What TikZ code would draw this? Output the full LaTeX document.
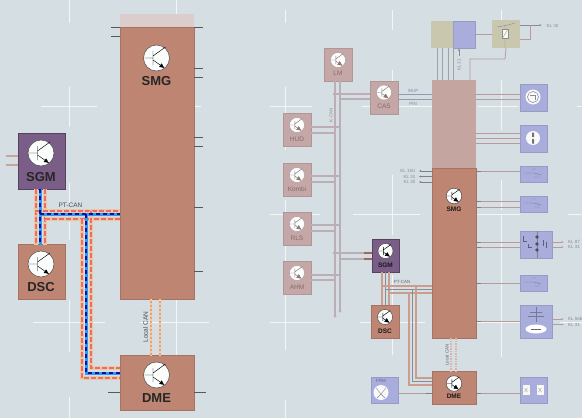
\documentclass[tikz,border=0pt]{standalone}
\usepackage{fontspec}
\setmainfont{Liberation Sans}
\usetikzlibrary{arrows.meta}
\definecolor{bg}{HTML}{D5DEE3}
\definecolor{salm}{HTML}{BE8573}
\definecolor{salmd}{HTML}{9C6A5C}
\definecolor{purp}{HTML}{7B5E88}
\definecolor{fade}{HTML}{C4A7A6}
\definecolor{pale}{HTML}{C4A5A0}
\definecolor{bluebox}{HTML}{A9ADDB}
\definecolor{tanbox}{HTML}{C9C8AE}
\definecolor{wiregrey}{HTML}{BBAEB4}
\definecolor{wirepink}{HTML}{B79A9C}
\definecolor{canred}{HTML}{EE6B66}
\definecolor{cantan}{HTML}{E9C8A6}
\definecolor{canblue}{HTML}{2C9AF0}
\definecolor{cannavy}{HTML}{10109A}
\definecolor{lolY}{HTML}{F2D27A}
\definecolor{txtg}{HTML}{8A8A92}
\tikzset{
 gridline/.style={white,line width=1pt,opacity=.75},
 ecu/.style={rectangle,minimum width=#1,inner sep=0pt,outer sep=0pt},
 boxS/.style={fill=salm,draw=salmd!70!salm,line width=.5pt},
 boxP/.style={fill=purp,draw=purp!70!black,line width=.7pt},
 boxF/.style={fill=fade,draw=fade!90!black,line width=.3pt},
 boxB/.style={fill=bluebox,draw=bluebox!90!black,line width=.3pt},
 boxT/.style={fill=tanbox},
 stub/.style={draw=black!65,line width=.8pt},
 rstub/.style={draw=black!50,line width=.7pt},
 canR/.style={draw=cantan,line width=4.5pt,postaction={draw=canred,line width=1.7pt,dash pattern=on 5pt off 2pt}},
 canB/.style={draw=canblue,line width=3pt,postaction={draw=cannavy,line width=1.4pt,dash pattern=on 4pt off 3pt}},
 canL/.style={draw=canred!70!white,line width=2.6pt,postaction={draw=lolY,line width=2.6pt,dash pattern=on 2pt off 2pt}},
 rcan/.style={draw=salm!80!white,line width=1.6pt},
 rcanb/.style={draw=black!45,line width=.7pt},
 rlocal/.style={draw=salm!60!white,line width=1.2pt,dash pattern=on 1.5pt off 1pt},
 kcan/.style={draw=wiregrey,line width=1.6pt},
 wthin/.style={draw=wirepink,line width=.8pt},
 bigl/.style={font=\bfseries\fontsize{13}{13}\selectfont,text=black!85},
 midl/.style={font=\bfseries\fontsize{6.5}{7}\selectfont,text=black!90},
 faint/.style={font=\fontsize{6.5}{7}\selectfont,text=black!35!fade},
 tinyl/.style={font=\fontsize{4.5}{5}\selectfont,text=txtg},
 capl/.style={font=\fontsize{6.5}{7}\selectfont,text=black!70},
 capr/.style={font=\fontsize{4.5}{5}\selectfont,text=black!60}
}
\newcommand{\trans}[4][black]{%
 \begin{scope}[shift={(#2,#3)},scale=#4,x=1pt,y=-1pt]
  \fill[white!93!bg,draw=#1!70!white,line width=.5pt] (0,0) circle (13);
  \draw[#1,line width=.45pt] (-12,0)--(-3.5,0) (-3.5,-7)--(-3.5,7) (-3.5,-2)--(9,-11);
  \draw[#1,line width=.45pt,-{Latex[length=5pt,width=4.5pt]}] (-3.5,2)--(8,10);
 \end{scope}}
\begin{document}
\begin{tikzpicture}[x=1pt,y=-1pt]
\useasboundingbox (0,0) rectangle (582,418);
\fill[bg] (0,0) rectangle (582,418);
% grid
\foreach \a/\b/\c in {69/0/23,69/87/127,69/183/205,69/222/240,69/300/352,69/397/418,176/0/17,176/300/355,285/10/23,285/87/150,285/167/196,285/200/350,285/400/418,392/10/30,392/70/115,392/175/235,392/275/355,501/10/22,501/80/130,501/180/210,501/215/357}
  \draw[gridline] (\a,\b)--(\a,\c);
\foreach \a/\b/\c in {106/41/97,322/33/105,322/140/209,106/195/201,106/270/312,106/362/432,214/270/320,214/353/420,322/270/320,322/360/425,106/478/518,106/577/582,214/476/520,214/568/582,322/472/520,322/560/582}
  \draw[gridline] (\b,\a)--(\c,\a);
% ===== left =====
\fill[white!40!pale!80!bg] (120,14) rectangle (194,27);
\node[ecu=74pt,minimum height=272pt,boxS] (smgL) at (157,163) {};
\node[ecu=74pt,minimum height=55pt,boxS] (dmeL) at (157,383) {};
\node[ecu=47pt,minimum height=55pt,boxS] (dscL) at (41.5,272) {};
\node[ecu=47pt,minimum height=56pt,boxP] (sgmL) at (41.5,161) {};
\foreach \y in {27,36} \draw[stub] (smgL.west |- 0,\y) -- ++(-9,0);
\foreach \y in {27,68,77,137,146,207,271} \draw[stub] (smgL.east |- 0,\y) -- ++(9,0);
\draw[stub] (dmeL.west |- 0,392) -- ++(-12,0);
\draw[stub] (dmeL.east |- 0,392) -- ++(12,0);
\draw[draw=salmd!60!white,line width=2.5pt] (sgmL.west |- 0,156) -- ++(-12,0);
\draw[draw=salmd!60!white,line width=2.5pt] (sgmL.west |- 0,165) -- ++(-12,0);
% PT-CAN left
\coordinate (a1) at (36,211);\coordinate (b1) at (40,214);\coordinate (c1) at (45,219);
\path[canR] (sgmL.south -| 36,0) -- (dscL.north -| 36,0);
\path[canR] (sgmL.south -| 45,0) -- (dscL.north -| 45,0);
\path[canR] (a1) -- (smgL.west |- a1);
\path[canR] (c1) -- (smgL.west |- c1);
\path[canR] (91,211) -- (91,368) -- (dmeL.west |- 0,368);
\path[canR] (82,219) -- (82,378) -- (dmeL.west |- 0,378);
\path[canB] (sgmL.south -| 40,0) -- (dscL.north -| 40,0);
\path[canB] (b1) -- (smgL.west |- b1);
\path[canB] (86,214) -- (86,373) -- (dmeL.west |- 0,373);
\path[canL] (smgL.south -| 151,0) -- (dmeL.north -| 151,0);
\path[canL] (smgL.south -| 160,0) -- (dmeL.north -| 160,0);
\node[capl] (ptL) at (70.5,205) {PT-CAN};
\node[capl,rotate=90] (lcL) at (145.5,327) {Local CAN};
\trans{156.5}{58}{1}
\trans{41}{153}{1}
\trans{41}{264}{1}
\trans{156.5}{375}{1}
\node[bigl] (t1) at (156.5,81.5) {SMG};
\node[bigl] (t2) at (41,177) {SGM};
\node[bigl] (t3) at (41,287.5) {DSC};
\node[bigl] (t4) at (156.5,398) {DME};
% ===== right =====
\node[ecu=28pt,minimum height=33pt,boxF] (lm) at (338,64.5) {};
\node[ecu=28pt,minimum height=33pt,boxF] (cas) at (384,97.5) {};
\node[ecu=28pt,minimum height=33pt,boxF] (hud) at (297,130) {};
\node[ecu=28pt,minimum height=33pt,boxF] (kombi) at (297,179.5) {};
\node[ecu=28pt,minimum height=33pt,boxF] (rls) at (297,228.5) {};
\node[ecu=28pt,minimum height=33pt,boxF] (ahm) at (297,277.5) {};
\node[ecu=27pt,minimum height=33pt,boxP] (sgmR) at (385.5,255.5) {};
\node[ecu=28pt,minimum height=33pt,boxS] (dscR) at (385,321.5) {};
\node[ecu=27pt,minimum height=26pt,boxB] (frm) at (384.5,390) {};
\node[ecu=44pt,minimum height=88pt,fill=pale] (smgRt) at (454,124) {};
\node[ecu=44pt,minimum height=170pt,boxS] (smgR) at (454,253) {};
\node[ecu=44pt,minimum height=33pt,boxS] (dmeR) at (454,387.5) {};
\node[ecu=22pt,minimum height=27pt,boxT] (tan1) at (442,34.5) {};
\node[ecu=22pt,minimum height=27pt,boxB] (blu1) at (464.5,34.5) {};
\node[ecu=28pt,minimum height=28pt,boxT] (rel) at (506,34) {};
\node[ecu=27pt,minimum height=27pt,boxB] (b1b) at (533.5,97.5) {};
\node[ecu=27pt,minimum height=27pt,boxB] (b2b) at (533.5,138.5) {};
\node[ecu=27pt,minimum height=16pt,boxB] (b3b) at (533.5,174) {};
\node[ecu=27pt,minimum height=16pt,boxB] (b4b) at (533.5,204) {};
\node[ecu=32pt,minimum height=27pt,boxB] (b5b) at (536,244.5) {};
\node[ecu=27pt,minimum height=16pt,boxB] (b6b) at (533.5,283) {};
\node[ecu=32pt,minimum height=33pt,boxB] (b7b) at (536,321.5) {};
\node[ecu=27pt,minimum height=26pt,boxB] (b8b) at (533.5,390) {};
% K-CAN
\draw[kcan] (lm.south -| 335,0) -- (335,316);
\draw[kcan] (lm.south -| 340,0) -- (340,311);
\fill[wiregrey] (335,316) circle (1.7) (340,311) circle (1.7);
\foreach \n/\y/\z in {cas/94/99}{
 \draw[kcan] (333,\y) -- (\n.west |- 0,\y);
 \draw[kcan] (340,\z) -- (\n.west |- 0,\z);}
\foreach \n/\y/\z in {hud/127/133,kombi/176/182,rls/225/231,ahm/275/280}{
 \draw[kcan] (\n.east |- 0,\y) -- (341,\y);
 \draw[kcan] (\n.east |- 0,\z) -- (335,\z);}
\draw[kcan] (333,253) -- (sgmR.west |- 0,253);
\draw[kcan] (340,259) -- (sgmR.west |- 0,259);
\draw[draw=salmd,line width=1.6pt] (364,253) -- (sgmR.west |- 0,253);
\draw[draw=salmd,line width=1.6pt] (364,259) -- (sgmR.west |- 0,259);
% PT-CAN right
\path[rcan] (sgmR.south -| 382,0) -- (dscR.north -| 382,0);
\path[rcanb] (sgmR.south -| 385.5,0) -- (dscR.north -| 385.5,0);
\path[rcan] (sgmR.south -| 389,0) -- (dscR.north -| 389,0);
\path[rcan] (382,286) -- (smgR.west |- 0,286);
\path[rcanb] (385.5,289.5) -- (smgR.west |- 0,289.5);
\path[rcan] (389,293) -- (smgR.west |- 0,293);
\path[rcan] (416,286) -- (416,378) -- (dmeR.west |- 0,378);
\path[rcanb] (412.5,289.5) -- (412.5,381.5) -- (dmeR.west |- 0,381.5);
\path[rcan] (409,293) -- (409,385) -- (dmeR.west |- 0,385);
\path[rlocal] (smgR.south -| 451,0) -- (dmeR.north -| 451,0);
\path[rlocal] (smgR.south -| 456,0) -- (dmeR.north -| 456,0);
\node[capr] (ptR) at (402,282) {PT-CAN};
\node[capr,rotate=90] (lcR) at (447,355) {Local CAN};
\node[tinyl,rotate=90] (kc) at (331,115) {K-CAN};
% thin wires
\draw[wthin,draw=txtg!60!bluebox] (cas.east |- 0,94) -- (smgRt.west |- 0,94);
\draw[wthin,draw=txtg!60!bluebox] (cas.east |- 0,99) -- (smgRt.west |- 0,99);
\node[tinyl] (wup) at (413,91) {WUP};
\node[tinyl] (pin) at (413,104) {PIN};
\foreach \x in {437,442.5,448,453.5} \draw[wthin,draw=txtg!80!white] (\x,48) -- (\x,80);
\draw[wthin,draw=txtg,{Latex[length=2.5pt,width=2pt]}-] (459,48) -- (459,56);
\node[tinyl,rotate=90] (kl31t) at (459,65) {KL 31};
\draw[wthin] (blu1.east |- 0,34) -- (rel.west |- 0,34);
\draw[wthin] (rel.south) -- (505,59) -- (470,59) -- (470,80);
\draw[wthin,draw=txtg,-{Latex[length=2.5pt,width=2pt]}] (rel.east |- 0,25) -- (542,25);
\draw[wthin] (rel.east |- 0,39) -- (530,39) -- (530,25);
\node[tinyl,anchor=west] (kl30t) at (543,25.5) {KL 30};
\foreach \n/\y in {b1b/94,b1b/99,b2b/133,b2b/138,b2b/143,b3b/171,b4b/201,b4b/207,b5b/242,b5b/247,b6b/283,b7b/321,b8b/393}
  \draw[wthin] (smgR.east |- 0,\y) -- (\n.west |- 0,\y);
\foreach \y in {171,201,207,242,247,283,321,393}
  \draw[rstub] (476,\y) -- (481,\y);
\draw[wthin] (frm.east |- 0,393) -- (dmeR.west |- 0,393);
\draw[rstub] (426,393) -- (432,393);
% KL stubs left of SMG
\foreach \y/\t in {171/KL 15U,176.5/KL 31,182/KL 30}{
 \draw[rstub,{Latex[length=2pt,width=2pt]}-] (419,\y) -- (smgR.west |- 0,\y);
 \node[tinyl,anchor=east] at (419,\y) {\t};}
% KL stubs right
\foreach \y/\t in {242/KL 87,247/KL 31}{
 \draw[wthin,-{Latex[length=2.5pt,width=2pt]}] (b5b.east |- 0,\y) -- (564,\y);
 \node[tinyl,anchor=west] at (564.5,\y) {\t};}
\foreach \y/\t in {319/KL 56b,324.5/KL 31}{
 \draw[wthin,-{Latex[length=2.5pt,width=2pt]}] (b7b.east |- 0,\y) -- (564,\y);
 \node[tinyl,anchor=west] at (564.5,\y) {\t};}
% right transistors
\foreach \x/\y in {338/60,384/92.5,297/125,297/175,297/224,297/273}
  {\trans[fade!70!black]{\x}{\y}{.58}}
\trans{385.5}{251}{.58}
\trans{385}{317}{.58}
\trans{454}{196}{.6}
\trans{454}{383.5}{.6}
\node[faint] at (338,73.5) {LM};
\node[faint] at (384,106.5) {CAS};
\node[faint] at (297,139.5) {HUD};
\node[faint] at (297,189) {Kombi};
\node[faint] at (297,238) {RLS};
\node[faint] at (297,287) {AHM};
\node[midl] at (385.5,265.5) {SGM};
\node[midl] at (385,331) {DSC};
\node[midl] at (454,209) {SMG};
\node[midl] at (454,396) {DME};
% FRM
\node[tinyl,text=bluebox!60!black] at (381,381) {FRM};
\fill[white!93!bluebox] (381,392.5) circle (7.5);
\draw[txtg,line width=.4pt] (376,388)--(381,394)--(386,388) (381,394)--(377,398) (381,394)--(385,398);
% tan box relay
\draw[black!45,line width=.4pt] (497,27)--(508,25)--(515,23) (505,25)--(505,29) (505,38)--(505,48);
\fill[white!85!tanbox,draw=black!45,line width=.4pt] (502.5,29) rectangle (508,38);
\draw[black!45,line width=.3pt] (502.5,38)--(508,29);
% blue box contents
\fill[white!93!bluebox] (533,97) circle (7.5);
\draw[black!50,line width=.5pt] (533,97) circle (5.5);
\draw[black!45,line width=.4pt] (530,95)--(535,95)--(535,100);
\fill[white!93!bluebox] (533,138) circle (7);
\fill[black!55] (532,132.5) rectangle (534,137) (532,139) rectangle (534,143.5);
\foreach \y in {174,204,283}{
 \draw[black!30!bluebox,line width=.4pt] (524,\y-1)--(534,\y-1)--(541,\y+1) (532,\y-5)--(536,\y-5) (534,\y+3)--(540,\y+3);}
\draw[black!50,line width=.5pt] (537,231)--(537,258);
\foreach \y in {237,244,250} \fill[black!55!bluebox] (537,\y) circle (1.9);
\draw[black!45!bluebox,line width=.5pt] (523,236)--(523,241)--(527,241) (528,244)--(528,247)--(532,247) (543,240)--(543,246) (546,242)--(546,248);
\draw[black!30!bluebox,line width=.4pt] (530,312)--(542,312) (536,307)--(536,316) (528,316)--(544,316) (536,316)--(536,322);
\fill[white] (536,329) ellipse (10.5 and 4.5);
\draw[black!60,line width=1pt] (531,329)--(541,329);
\foreach \x in {526,540}{
 \fill[white!85!tanbox] (\x-3.5,385) rectangle (\x+3.5,395);
 \draw[black!35,line width=.4pt] (\x-1.5,388)--(\x+1.5,392) (\x+1.5,388)--(\x-1.5,392);}
\end{tikzpicture}
\end{document}
